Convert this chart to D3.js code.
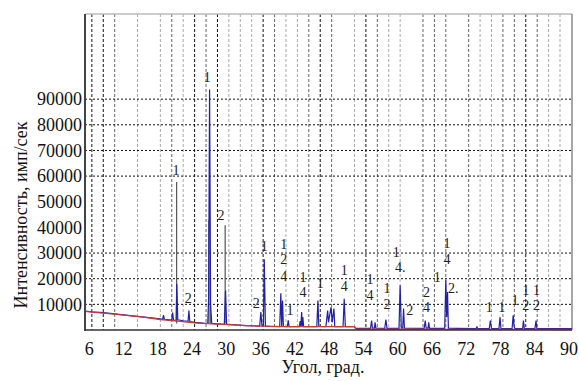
<!DOCTYPE html>
<html>
<head>
<meta charset="utf-8">
<script src="https://cdn.jsdelivr.net/npm/d3@7"></script>
<style>
  body { margin: 0; background: #fff; }
  svg text { font-family: "Liberation Serif", "Times New Roman", Times, "DejaVu Serif", serif; }
</style>
</head>
<body>
<div id="chart"></div>
<script>
// angle ticks and intensity ticks
const xTicks = [6, 12, 18, 24, 30, 36, 42, 48, 54, 60, 66, 72, 78, 84, 90];
const yTicks = [10000, 20000, 30000, 40000, 50000, 60000, 70000, 80000, 90000];
const yGrid = [10000, 20000, 30000, 60000, 70000, 80000, 90000];
const vGrid = [6, 8, 10, 14, 18, 20, 22, 24, 26, 28, 30, 32, 34, 36, 38, 40, 42, 44, 46, 48,
  52, 54, 56, 58, 60, 64, 66, 68, 72, 74, 76, 78, 80, 82, 84, 86, 88];

// background curve (red)
const background = [[4.8, 7300], [6, 7000], [9, 6400], [12, 5700], [15, 5000], [18, 4100],
  [21, 3500], [24, 2800], [27, 2400], [30, 2100], [33, 1700], [36, 1500], [40, 1300],
  [45, 1300], [52, 1300], [52.3, 300], [60, 300], [70, 250], [80, 250], [90.1, 200]];

// measured pattern (blue), [angle, counts]
const pattern = [[4.8, 7400], [6, 7100], [8, 6800], [10, 6300], [12, 5800], [14, 5300], [16, 4800],
  [18, 4300], [18.4, 4200], [18.55, 5800], [18.7, 4200], [20.0, 3900], [20.15, 6800], [20.3, 3800],
  [20.75, 3800], [20.88, 18000], [21.05, 4000], [22.0, 3600], [22.85, 3400], [23.0, 7600], [23.15, 3300],
  [24.0, 3000], [25.5, 2700], [26.3, 2600], [26.45, 12000], [26.62, 93800], [26.8, 10000], [27.0, 2600],
  [28.0, 2400], [29.2, 2200], [29.42, 15400], [29.6, 2300], [30.5, 2100], [33, 1700], [35.4, 1500],
  [35.6, 7000], [35.8, 1600], [36.05, 1600], [36.2, 27600], [36.4, 1500], [37, 1400], [38.9, 1300],
  [39.1, 14300], [39.25, 1500], [39.4, 11500], [39.55, 1400], [40.25, 1300], [40.4, 3800], [40.55, 1300],
  [42.3, 1300], [42.5, 3500], [42.6, 1300], [42.75, 7000], [42.85, 1500], [42.95, 5000], [43.1, 1300],
  [45.4, 1300], [45.6, 11500], [45.75, 1400], [47.0, 1300], [47.3, 7600], [47.45, 3000], [47.9, 8900],
  [48.1, 3000], [48.4, 8400], [48.55, 1300], [50.0, 1300], [50.2, 12200], [50.4, 1300], [52, 1300],
  [52.2, 600], [54.8, 600], [55.0, 3700], [55.15, 700], [55.5, 700], [55.6, 3000], [55.75, 700],
  [57.3, 600], [57.5, 4100], [57.7, 600], [59.8, 600], [60.0, 17400], [60.2, 800], [60.45, 700],
  [60.6, 8400], [60.75, 700], [64.2, 600], [64.4, 3700], [64.55, 700], [64.9, 700], [65.0, 3000],
  [65.15, 600], [67.8, 600], [68.0, 19400], [68.15, 5000], [68.3, 14800], [68.45, 700], [70, 600],
  [73.3, 500], [73.45, 1200], [73.6, 500], [75.6, 500], [75.8, 3700], [76.0, 500], [77.3, 500],
  [77.5, 5000], [77.65, 500], [79.6, 500], [79.8, 5700], [79.95, 1500], [80.1, 500], [81.45, 500],
  [81.6, 3700], [81.75, 500], [83.6, 500], [83.8, 3700], [83.95, 500], [86, 500], [90.1, 500]];

// gray sticks over the main peaks
const sticks = [[20.85, 57700], [26.5, 42800], [26.75, 31000], [29.35, 40800]];

// phase labels: angle, counts, text
const peakLabels = [
  [20.76, 62300, "1"], [26.2, 98500, "1"], [28.6, 44700, "2"], [22.9, 12300, "2"],
  [36.2, 32600, "1"], [34.8, 10400, "2"],
  [39.6, 33400, "1"], [39.6, 27500, "2"], [39.6, 20900, "4"], [40.7, 7700, "1"],
  [43.0, 20500, "1"], [43.0, 14700, "4"], [46.0, 18200, "1"],
  [50.2, 23300, "1"], [50.2, 17000, "4"], [54.7, 19700, "1"], [54.7, 13500, "4"],
  [57.7, 16200, "1"], [57.7, 10000, "2"], [59.3, 30300, "1"], [60.0, 24400, "4."],
  [61.7, 7600, "2"], [64.6, 14700, "2"], [64.6, 8800, "4"], [66.5, 20500, "1"],
  [68.2, 33800, "1"], [68.2, 27500, "4"], [69.3, 16200, "2."],
  [75.6, 8800, "1"], [77.8, 8800, "1"], [80.1, 11600, "1"],
  [82.0, 15500, "1"], [82.0, 9600, "2"], [83.9, 15500, "1"], [83.9, 9600, "2"]];

const width = 579, height = 381;
const plot = { left: 85, right: 572, top: 14, bottom: 330 };

const svg = d3.select("#chart").append("svg")
  .attr("width", width)
  .attr("height", height);

const x = d3.scaleLinear().domain([4.8, 90.1]).range([plot.left, plot.right]);
const y = d3.scaleLinear().domain([0, 123200]).range([plot.bottom, plot.top]);

// vertical grid, three tones
const darkV = [6, 8, 24, 28, 36, 46, 54, 82];
const midV = [10, 20, 26, 38, 44, 48, 56, 64, 66, 68, 72, 78, 80, 84];
const tone = a => darkV.includes(a) ? "#111" : midV.includes(a) ? "#666" : "#aaa";

svg.append("g").selectAll("line")
  .data(vGrid)
  .join("line")
  .attr("x1", d => x(d)).attr("x2", d => x(d))
  .attr("y1", plot.top).attr("y2", plot.bottom)
  .attr("stroke", d => tone(d))
  .attr("stroke-width", 1)
  .attr("stroke-dasharray", "3,2");

svg.append("g").selectAll("line")
  .data(yGrid)
  .join("line")
  .attr("x1", plot.left).attr("x2", plot.right)
  .attr("y1", d => y(d)).attr("y2", d => y(d))
  .attr("stroke", "#111")
  .attr("stroke-width", 1)
  .attr("stroke-dasharray", "2,2");

// frame
svg.append("line").attr("x1", plot.left).attr("x2", plot.right).attr("y1", plot.top).attr("y2", plot.top)
  .attr("stroke", "#bbb").attr("stroke-width", 1.5);
svg.append("line").attr("x1", plot.right).attr("x2", plot.right).attr("y1", plot.top).attr("y2", plot.bottom)
  .attr("stroke", "#888").attr("stroke-width", 1.5);

const line = d3.line().x(d => x(d[0])).y(d => y(d[1]));

svg.append("g").selectAll("line")
  .data(sticks)
  .join("line")
  .attr("x1", d => x(d[0])).attr("x2", d => x(d[0]))
  .attr("y1", y(2500)).attr("y2", d => y(d[1]))
  .attr("stroke", "#555")
  .attr("stroke-width", 1.2);

svg.append("path")
  .datum(pattern)
  .attr("fill", "none")
  .attr("stroke", "#2020a8")
  .attr("stroke-width", 1.2)
  .attr("d", line);

// background drawn over the pattern base
svg.append("path")
  .datum(background)
  .attr("fill", "none")
  .attr("stroke", "#c83a3a")
  .attr("stroke-width", 1.3)
  .attr("d", line);

// axes lines
svg.append("line").attr("x1", plot.left).attr("x2", plot.left).attr("y1", plot.top).attr("y2", plot.bottom + 1)
  .attr("stroke", "#444").attr("stroke-width", 2);
svg.append("line").attr("x1", plot.left).attr("x2", plot.right).attr("y1", plot.bottom).attr("y2", plot.bottom)
  .attr("stroke", "#333").attr("stroke-width", 1.5);

// tick labels
const xAxis = svg.append("g")
  .attr("transform", `translate(0,${plot.bottom})`)
  .call(d3.axisBottom(x).tickValues(xTicks).tickSize(0).tickPadding(12));
xAxis.select(".domain").remove();
xAxis.attr("font-family", null).attr("font-size", null);
xAxis.selectAll("text")
  .attr("dx", -3)
  .style("font-size", "18px")
  .attr("fill", "#111");

const yAxis = svg.append("g")
  .attr("transform", `translate(${plot.left},0)`)
  .call(d3.axisLeft(y).tickValues(yTicks).tickSize(0).tickPadding(3).tickFormat(d3.format("d")));
yAxis.select(".domain").remove();
yAxis.attr("font-family", null).attr("font-size", null);
yAxis.selectAll("text")
  .style("font-size", "18px")
  .attr("fill", "#111");

// peak labels
svg.append("g").selectAll("text")
  .data(peakLabels)
  .join("text")
  .attr("x", d => x(d[0]))
  .attr("y", d => y(d[1]))
  .attr("dy", "0.35em")
  .attr("text-anchor", "middle")
  .style("font-size", "14px")
  .attr("fill", "#222")
  .text(d => d[2]);

// titles
svg.append("text")
  .attr("x", 323)
  .attr("y", 373)
  .attr("text-anchor", "middle")
  .style("font-size", "18px")
  .attr("fill", "#111")
  .text("Угол, град.");

svg.append("text")
  .attr("transform", "translate(27,215) rotate(-90)")
  .attr("text-anchor", "middle")
  .style("font-size", "18px")
  .attr("fill", "#111")
  .text("Интенсивность, имп/сек");
</script>
</body>
</html>
